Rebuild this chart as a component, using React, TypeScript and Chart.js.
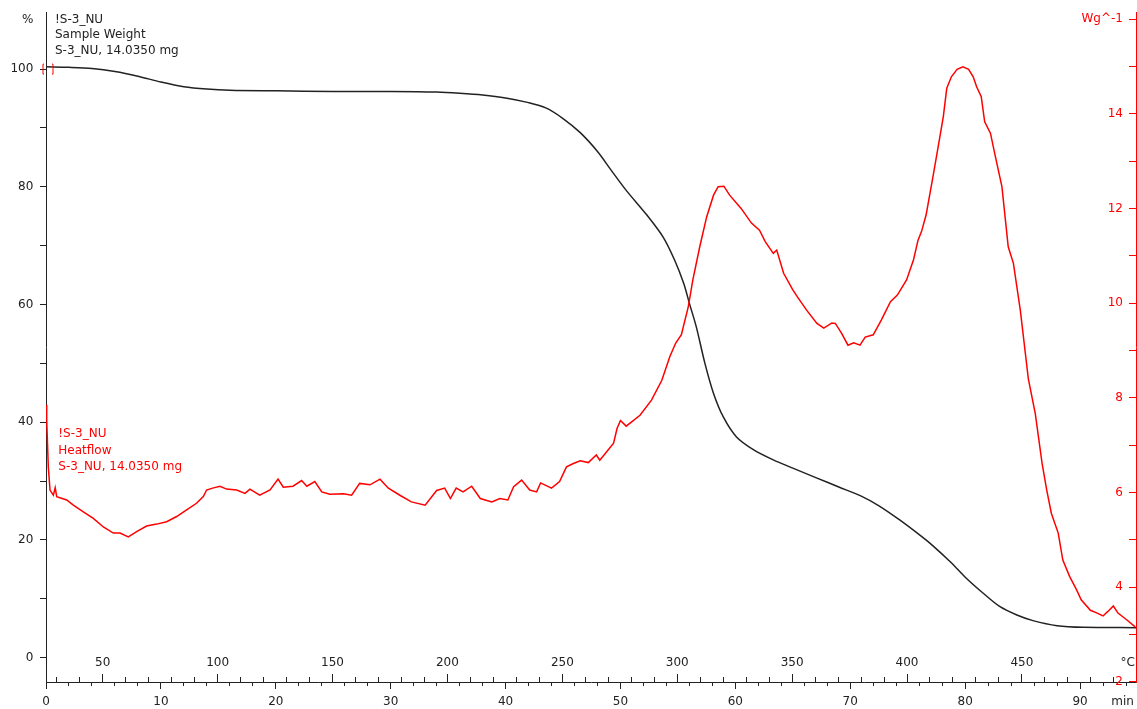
import { useEffect, useRef } from 'react';
import { Chart, registerables } from 'chart.js';

Chart.register(...registerables);

const FONT = '"DejaVu Sans", Verdana, sans-serif';
const BLACK = '#222222';
const RED = '#ff0000';

// ---- data: sample weight (%) vs time (min)
const weightTime = [0, 2, 4, 6, 8, 10, 12, 14, 16, 20, 25, 30, 34, 36, 38, 40, 42, 43.5, 45, 46.5, 48, 49.2, 50.5, 52.3, 53.7, 54.7, 55.5, 56, 56.6, 57.35, 58.1, 58.95, 60.1, 61.6, 63.3, 65, 67, 69, 71, 72.5, 74.3, 76.2, 77.2, 78.7, 80.1, 81.6, 83, 84.5, 85.9, 88, 90.3, 94.87];
const weightPct = [100.4, 100.3, 100.1, 99.6, 98.8, 97.8, 97.0, 96.6, 96.4, 96.3, 96.2, 96.2, 96.1, 95.9, 95.6, 95.1, 94.3, 93.4, 91.6, 89.2, 86.0, 82.8, 79.4, 75.2, 71.5, 67.6, 63.6, 60.2, 56.2, 50.0, 44.9, 40.9, 37.5, 35.3, 33.6, 32.2, 30.6, 29.0, 27.4, 25.8, 23.4, 20.6, 19.0, 16.3, 13.5, 10.9, 8.7, 7.25, 6.3, 5.44, 5.16, 5.1];

// ---- data: heat flow (W/g) vs time (min)
const heatTime = [0.0, 0.06, 0.2, 0.35, 0.64, 0.8, 0.93, 1.8, 2.38, 3.25, 4.12, 4.99, 5.86, 6.44, 7.16, 7.89, 8.76, 9.63, 10.5, 11.37, 12.24, 13.1, 13.69, 13.98, 14.5, 15.14, 15.72, 16.6, 17.32, 17.75, 18.6, 19.5, 20.2, 20.65, 21.5, 22.25, 22.7, 23.4, 24.0, 24.7, 25.9, 26.6, 27.3, 28.2, 29.07, 29.8, 30.8, 31.8, 33.0, 34.0, 34.7, 35.2, 35.7, 36.3, 37.05, 37.8, 38.8, 39.5, 40.2, 40.7, 41.4, 42.1, 42.7, 43.05, 44.0, 44.7, 45.3, 45.9, 46.5, 47.2, 47.9, 48.2, 48.8, 49.4, 49.7, 50.0, 50.5, 51.7, 52.7, 53.6, 54.3, 54.8, 55.3, 55.9, 56.3, 56.9, 57.5, 58.1, 58.5, 59.0, 59.5, 60.5, 61.4, 62.1, 62.6, 63.3, 63.6, 64.2, 65.0, 65.4, 66.2, 67.1, 67.7, 68.4, 68.7, 69.25, 69.8, 70.3, 70.85, 71.3, 72.0, 72.7, 73.5, 74.1, 74.9, 75.5, 75.9, 76.2, 76.6, 77.2, 77.6, 78.1, 78.4, 78.8, 79.3, 79.8, 80.3, 80.7, 81.0, 81.4, 81.7, 82.2, 82.6, 83.2, 83.75, 84.2, 84.8, 85.5, 86.1, 86.7, 87.1, 87.5, 88.1, 88.5, 89.1, 89.7, 90.1, 90.9, 91.4, 92.0, 92.4, 92.9, 93.3, 94.0, 94.8];
const heatFlow = [7.85, 7.53, 6.54, 6.05, 5.94, 6.1, 5.91, 5.84, 5.73, 5.59, 5.45, 5.27, 5.14, 5.14, 5.06, 5.17, 5.29, 5.33, 5.38, 5.49, 5.63, 5.77, 5.91, 6.05, 6.09, 6.13, 6.07, 6.05, 5.98, 6.07, 5.94, 6.05, 6.28, 6.11, 6.13, 6.25, 6.13, 6.23, 6.01, 5.96, 5.97, 5.94, 6.19, 6.16, 6.28, 6.09, 5.94, 5.8, 5.73, 6.04, 6.09, 5.87, 6.09, 6.01, 6.13, 5.87, 5.8, 5.87, 5.84, 6.12, 6.26, 6.05, 6.01, 6.2, 6.09, 6.23, 6.54, 6.61, 6.67, 6.63, 6.79, 6.68, 6.86, 7.04, 7.35, 7.52, 7.4, 7.63, 7.95, 8.37, 8.87, 9.15, 9.33, 9.92, 10.49, 11.19, 11.82, 12.28, 12.46, 12.47, 12.28, 12.0, 11.69, 11.54, 11.3, 11.05, 11.12, 10.63, 10.28, 10.13, 9.85, 9.57, 9.47, 9.58, 9.57, 9.36, 9.11, 9.16, 9.11, 9.28, 9.33, 9.64, 10.03, 10.17, 10.49, 10.91, 11.33, 11.51, 11.86, 12.67, 13.23, 13.94, 14.54, 14.78, 14.94, 14.99, 14.94, 14.78, 14.57, 14.36, 13.83, 13.59, 13.13, 12.46, 11.19, 10.84, 9.85, 8.4, 7.67, 6.61, 6.05, 5.56, 5.14, 4.57, 4.22, 3.94, 3.73, 3.51, 3.46, 3.39, 3.48, 3.6, 3.45, 3.32, 3.16];

// ---- ticks & labels
const timeMajorTicks = [0, 10, 20, 30, 40, 50, 60, 70, 80, 90];
const timeMinorTicks = [2, 4, 6, 8, 12, 14, 16, 18, 22, 24, 26, 28, 32, 34, 36, 38, 42, 44, 46, 48, 52, 54, 56, 58, 62, 64, 66, 68, 72, 74, 76, 78, 82, 84, 86, 88, 92, 94];
const TIME_UNIT_POS = 93.7;
const TIME_UNIT = 'min';
const tempMajorTicks = [50, 100, 150, 200, 250, 300, 350, 400, 450];
const tempMinorTicks = [30, 40, 60, 70, 80, 90, 110, 120, 130, 140, 160, 170, 180, 190, 210, 220, 230, 240, 260, 270, 280, 290, 310, 320, 330, 340, 360, 370, 380, 390, 410, 420, 430, 440, 460, 470, 480, 490];
const TEMP_UNIT_POS = 496;
const TEMP_UNIT = '°C';
const weightTicks = [0, 10, 20, 30, 40, 50, 60, 70, 80, 90, 100];
const WEIGHT_UNIT_POS = 108.3;
const WEIGHT_UNIT = '%';
const heatTicks = [2, 3, 4, 5, 6, 7, 8, 9, 10, 11, 12, 13, 14, 15];
const HEAT_UNIT_POS = 16;
const HEAT_UNIT = 'Wg^-1';

const weightLabel = ['!S-3_NU', 'Sample Weight', 'S-3_NU, 14.0350 mg'];
const heatLabel = ['!S-3_NU', 'Heatflow', 'S-3_NU, 14.0350 mg'];

// ---- scale ranges
const X_MIN = 0;
const X_MAX = 94.87;
const T_OFFSET = 25.3; // temperature at t = 0
const T_RATE = 5; // °C per min
const Y_MIN = -4.13;
const Y_MAX = 109.7;
const Y2_MIN = 1.994;
const Y2_MAX = 16.15;

const TRANSPARENT = 'rgba(0,0,0,0)';

const setTicks = (vals: number[]) => (scale: any) => {
  scale.ticks = vals.map((v) => ({ value: v }));
};

const fitter = (w?: number, h?: number) => (s: any) => {
  if (w !== undefined) s.width = w;
  if (h !== undefined) s.height = h;
  s.paddingTop = 0;
  s.paddingBottom = 0;
  s.paddingLeft = 0;
  s.paddingRight = 0;
};

const font = { family: FONT, size: 12 };

const labelPlugin = {
  id: 'curveLabels',
  afterDraw(chart: any) {
    const { ctx, chartArea, scales } = chart;
    ctx.save();
    ctx.font = `12px ${FONT}`;
    ctx.textBaseline = 'middle';
    ctx.textAlign = 'left';
    ctx.fillStyle = BLACK;
    weightLabel.forEach((s, i) => ctx.fillText(s, chartArea.left + 9, 20 + i * 15.3));
    ctx.fillStyle = RED;
    heatLabel.forEach((s, i) => ctx.fillText(s, chartArea.left + 12.3, 434.3 + i * 16.2));
    // red start-cursor brackets on the weight axis at 100 %
    const yb = scales.y.getPixelForValue(100);
    ctx.strokeStyle = RED;
    ctx.lineWidth = 1;
    ctx.beginPath();
    ctx.moveTo(chartArea.left - 2, yb - 5);
    ctx.lineTo(chartArea.left - 3, yb - 5);
    ctx.lineTo(chartArea.left - 3, yb + 5);
    ctx.lineTo(chartArea.left - 2, yb + 5);
    ctx.moveTo(chartArea.left + 6, yb - 5);
    ctx.lineTo(chartArea.left + 7, yb - 5);
    ctx.lineTo(chartArea.left + 7, yb + 5);
    ctx.lineTo(chartArea.left + 6, yb + 5);
    ctx.stroke();
    ctx.restore();
  },
};

export default function App() {
  const ref = useRef<HTMLCanvasElement>(null);

  useEffect(() => {
    const canvas = ref.current;
    if (!canvas) return;
    const chart = new Chart(canvas, {
      type: 'line',
      data: {
        datasets: [
          {
            label: 'Heatflow',
            data: heatTime.map((t, i) => ({ x: t, y: heatFlow[i] })),
            borderColor: RED,
            borderWidth: 1.5,
            pointRadius: 0,
            tension: 0,
            xAxisID: 'x',
            yAxisID: 'y2',
          },
          {
            label: 'Sample Weight',
            data: weightTime.map((t, i) => ({ x: t, y: weightPct[i] })),
            borderColor: BLACK,
            borderWidth: 1.5,
            pointRadius: 0,
            tension: 0.3,
            xAxisID: 'x',
            yAxisID: 'y',
          },
        ],
      },
      options: {
        responsive: false,
        animation: false,
        devicePixelRatio: 1,
        parsing: false as any,
        layout: { padding: { top: 12, left: 0, right: 0, bottom: 0 } },
        plugins: { legend: { display: false }, tooltip: { enabled: false } },
        scales: {
          x: {
            type: 'linear',
            position: 'bottom',
            min: X_MIN,
            max: X_MAX,
            afterBuildTicks: setTicks([...timeMajorTicks, TIME_UNIT_POS]),
            afterFit: fitter(undefined, 27),
            border: { color: BLACK, width: 1 },
            grid: {
              drawOnChartArea: false,
              tickLength: 7,
              color: BLACK,
              tickColor: (c: any) => (c.tick && c.tick.value === TIME_UNIT_POS ? TRANSPARENT : BLACK),
            },
            ticks: {
              autoSkip: false,
              maxRotation: 0,
              minRotation: 0,
              padding: 6,
              color: BLACK,
              font,
              callback: (v: any) => (v === TIME_UNIT_POS ? TIME_UNIT : String(v)),
            },
          },
          xMinor: {
            type: 'linear',
            axis: 'x',
            position: { y: Y_MIN },
            min: X_MIN,
            max: X_MAX,
            afterBuildTicks: setTicks(timeMinorTicks),
            afterFit: fitter(),
            border: { display: false },
            grid: { drawOnChartArea: false, tickLength: 4, color: BLACK },
            ticks: { display: false, autoSkip: false },
          },
          t: {
            type: 'linear',
            axis: 'x',
            position: { y: Y_MIN },
            min: T_OFFSET + T_RATE * X_MIN,
            max: T_OFFSET + T_RATE * X_MAX,
            afterBuildTicks: setTicks([...tempMajorTicks, TEMP_UNIT_POS]),
            afterFit: fitter(),
            border: { display: false },
            grid: {
              drawOnChartArea: false,
              tickLength: -8,
              color: BLACK,
              tickColor: (c: any) => (c.tick && c.tick.value === TEMP_UNIT_POS ? TRANSPARENT : BLACK),
            },
            ticks: {
              autoSkip: false,
              maxRotation: 0,
              minRotation: 0,
              padding: -18.2,
              color: BLACK,
              font,
              callback: (v: any) => (v === TEMP_UNIT_POS ? TEMP_UNIT : String(v)),
            },
          },
          tMinor: {
            type: 'linear',
            axis: 'x',
            position: { y: Y_MIN },
            min: T_OFFSET + T_RATE * X_MIN,
            max: T_OFFSET + T_RATE * X_MAX,
            afterBuildTicks: setTicks(tempMinorTicks),
            afterFit: fitter(),
            border: { display: false },
            grid: { drawOnChartArea: false, tickLength: -5, color: BLACK },
            ticks: { display: false, autoSkip: false },
          },
          y: {
            type: 'linear',
            position: 'left',
            min: Y_MIN,
            max: Y_MAX,
            afterBuildTicks: setTicks([...weightTicks, WEIGHT_UNIT_POS]),
            afterFit: fitter(46),
            border: { color: BLACK, width: 1 },
            grid: {
              drawOnChartArea: false,
              tickLength: 6,
              color: BLACK,
              tickColor: (c: any) => (c.tick && c.tick.value === WEIGHT_UNIT_POS ? TRANSPARENT : BLACK),
            },
            ticks: {
              autoSkip: false,
              padding: 6.7,
              color: BLACK,
              font,
              callback: (v: any) => (v === WEIGHT_UNIT_POS ? WEIGHT_UNIT : v % 20 === 0 ? String(v) : ''),
            },
          },
          y2: {
            type: 'linear',
            position: 'right',
            min: Y2_MIN,
            max: Y2_MAX,
            afterBuildTicks: setTicks([...heatTicks, HEAT_UNIT_POS]),
            afterFit: fitter(1),
            border: { color: RED, width: 1 },
            grid: { drawOnChartArea: false, tickLength: -7, color: RED },
            ticks: {
              autoSkip: false,
              mirror: true,
              padding: -13,
              color: RED,
              font,
              callback: (v: any) => (v === HEAT_UNIT_POS ? HEAT_UNIT : v % 2 === 0 ? String(v) : ''),
            },
          },
        } as any,
      },
      plugins: [labelPlugin],
    });
    return () => chart.destroy();
  }, []);

  return (
    <div style={{ position: 'absolute', left: 0, top: 0, width: 1137, height: 709, background: '#ffffff' }}>
      <canvas ref={ref} width={1137} height={709} style={{ display: 'block', width: 1137, height: 709 }} />
    </div>
  );
}
